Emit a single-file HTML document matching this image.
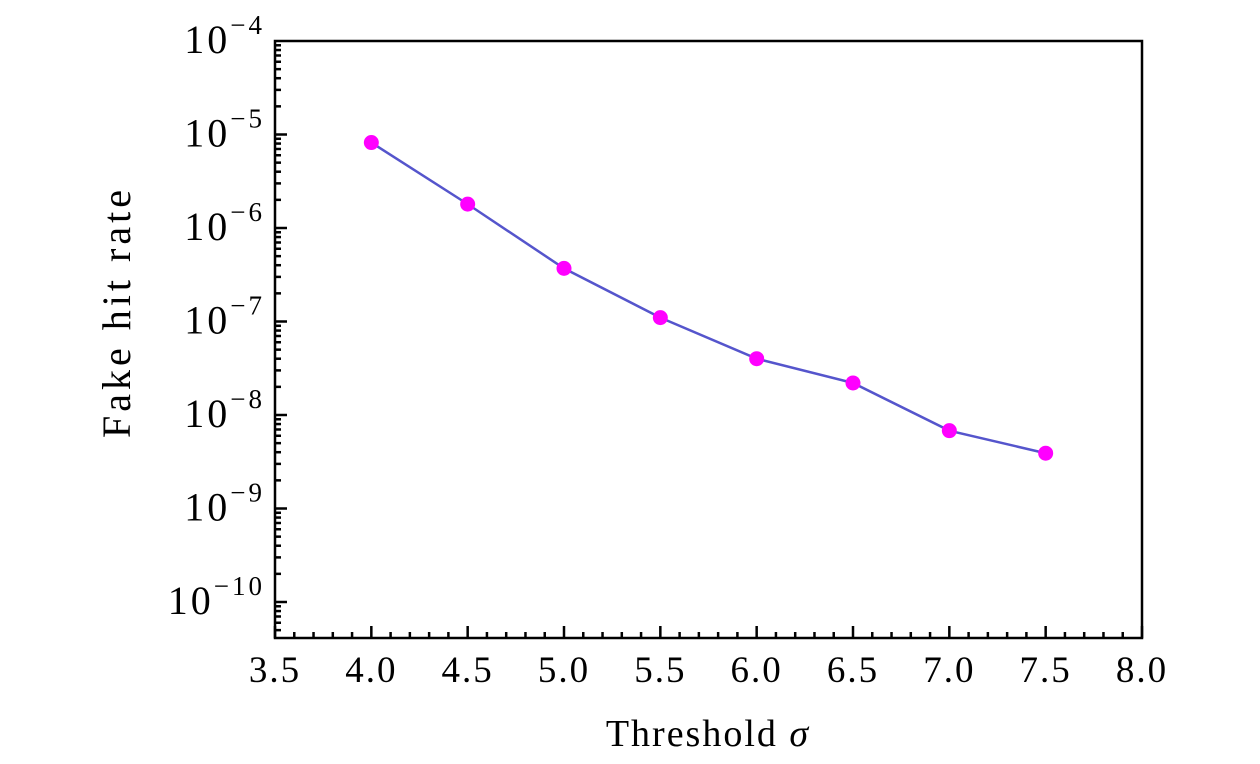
<!DOCTYPE html>
<html><head><meta charset="utf-8"><style>
body{margin:0;background:#fff;}
svg{display:block;font-family:"Liberation Serif",serif;}
</style></head><body>
<svg id="chart" width="1260" height="764"></svg>
<script>
const xValues=[4.0,4.5,5.0,5.5,6.0,6.5,7.0,7.5];
const yValues=[8.2e-6,1.8e-6,3.7e-7,1.1e-7,4.0e-8,2.2e-8,6.8e-9,3.9e-9];
const xTickLabels=["3.5","4.0","4.5","5.0","5.5","6.0","6.5","7.0","7.5","8.0"];
const yTickExps=[-4,-5,-6,-7,-8,-9,-10];

const L=275,R=1142,T=41,B=638;
const NS="http://www.w3.org/2000/svg";
const svg=document.getElementById('chart');
function X(v){return L+(v-3.5)/(8.0-3.5)*(R-L);}
const decPx=93.5;
function Y(v){return T+(-4-Math.log10(v))*decPx;}
function el(tag,attrs,parent){const e=document.createElementNS(NS,tag);for(const k in attrs)e.setAttribute(k,attrs[k]);(parent||svg).appendChild(e);return e;}

const frame=el('rect',{x:L,y:T,width:R-L,height:B-T,fill:'none',stroke:'#000','stroke-width':2.5});



for(let i=0;i<=45;i++){
  const v=3.5+i*0.1;const x=X(v);const major=i%5===0;
  el('line',{x1:x,x2:x,y1:B,y2:B-(major?12:6),stroke:'#000','stroke-width':2.5});
}
xTickLabels.forEach(s=>{
  const t=el('text',{x:X(parseFloat(s)),y:B+44,'text-anchor':'middle','font-size':37,'letter-spacing':2});
  t.textContent=s;
  
  
});
for(let e=-11;e<=-5;e++){
  for(let m=1;m<10;m++){
    const v=m*Math.pow(10,e);const y=Y(v);
    if(y<T-0.5||y>B+0.5)continue;
    el('line',{x1:L,x2:L+(m===1?12:6),y1:y,y2:y,stroke:'#000','stroke-width':2.5});
  }
}
yTickExps.forEach(e=>{
  const y=Y(Math.pow(10,e));
  const t=el('text',{x:265,y:y+12,'text-anchor':'end','font-size':40,'letter-spacing':3});
  
  
  t.textContent='10';
  const s=el('tspan',{dy:-19,'font-size':27,'letter-spacing':3},t);s.textContent='\u2212'+(-e);
});
const pts=xValues.map((x,i)=>X(x)+','+Y(yValues[i])).join(' ');
const line=el('polyline',{points:pts,fill:'none',stroke:'#5555cc','stroke-width':2.5});


xValues.forEach((x,i)=>{
  const c=el('circle',{cx:X(x),cy:Y(yValues[i]),r:7.5,fill:'#ff00ff'});
  
  
});
const xt=el('text',{x:708,y:746,'text-anchor':'middle','font-size':38,'letter-spacing':2});


xt.innerHTML='Threshold <tspan font-style="italic">σ</tspan>';
const yt=el('text',{x:0,y:0,'text-anchor':'middle','font-size':40,'letter-spacing':4,transform:'translate(130,312) rotate(-90)'});


yt.textContent='Fake hit rate';
</script>
</body></html>
